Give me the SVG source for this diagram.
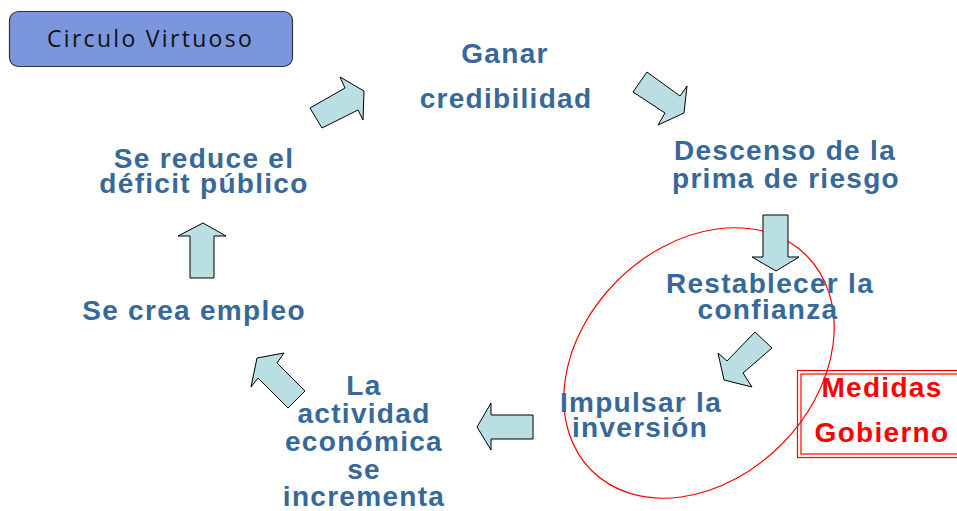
<svg xmlns="http://www.w3.org/2000/svg" width="957" height="511" viewBox="0 0 957 511">
<style>
.t{font-family:"Liberation Sans",Arial,sans-serif;font-weight:bold;font-size:28px;letter-spacing:1.3px;fill:#36689a;text-anchor:middle}
.r{fill:#ff0000}
.arr{fill:#b9dfe2;stroke:#000;stroke-width:1;stroke-linejoin:miter}
.title{font-family:"Open Sans","DejaVu Sans",sans-serif;font-size:23px;letter-spacing:2.3px;fill:#111}
</style>
<rect width="957" height="511" fill="#fff"/>
<g id="title">
<rect x="9.5" y="11.5" width="283" height="55" rx="9" fill="#7b96dc" stroke="#333" stroke-width="1.2"/>
<text class="title" x="47" y="47">Circulo Virtuoso</text>
</g>
<g id="circle-highlight">
<ellipse cx="699" cy="363" rx="152" ry="116" transform="rotate(-45 699 363)" fill="none" stroke="#ff0000" stroke-width="1.2"/>
</g>
<g id="connectors">
<polygon class="arr" points="310,108 345,88 340,77 364,91 363,120 358,110 322,128"/>
<polygon class="arr" points="633,92 647,72 680,96 687,86 684,113 658,125 665,113"/>
<polygon class="arr" points="763,215 788,215 788,257 799,257 776,271 752,257 763,257"/>
<polygon class="arr" points="755,332 772,348 743,373 752,387 724,380 718,353 727,361"/>
<polygon class="arr" points="533,415 533,439 491,439 491,450 477,427 491,403 491,415"/>
<polygon class="arr" points="305,391 288,408 258,378 251,387 257,358 284,353 277,363"/>
<polygon class="arr" points="190,278 214,278 214,236 226,236 203,223 178,236 190,236"/>
</g>
<g id="ganar">
<text class="t" x="505" y="63">Ganar</text>
<text class="t" x="506" y="108">credibilidad</text>
</g>
<g id="descenso">
<text class="t" x="785" y="160">Descenso de la</text>
<text class="t" x="786" y="188">prima de riesgo</text>
</g>
<g id="restablecer">
<text class="t" x="770" y="293">Restablecer la</text>
<text class="t" x="768" y="319">confianza</text>
</g>
<g id="impulsar">
<text class="t" x="641" y="412">Impulsar la</text>
<text class="t" x="640" y="437">inversión</text>
</g>
<g id="actividad">
<text class="t" x="364" y="395">La</text>
<text class="t" x="364" y="423">actividad</text>
<text class="t" x="364" y="451">económica</text>
<text class="t" x="364" y="479">se</text>
<text class="t" x="364" y="506">incrementa</text>
</g>
<g id="empleo">
<text class="t" x="194" y="320">Se crea empleo</text>
</g>
<g id="deficit">
<text class="t" x="204" y="168">Se reduce el</text>
<text class="t" x="204" y="193">déficit público</text>
</g>
<g id="medidas">
<rect x="797.5" y="370.5" width="175" height="87" fill="none" stroke="#ff0000" stroke-width="1.2"/>
<rect x="801" y="374" width="175" height="80" fill="none" stroke="#ff0000" stroke-width="1.2"/>
<text class="t r" x="882" y="397">Medidas</text>
<text class="t r" x="882" y="442">Gobierno</text>
</g>
</svg>
